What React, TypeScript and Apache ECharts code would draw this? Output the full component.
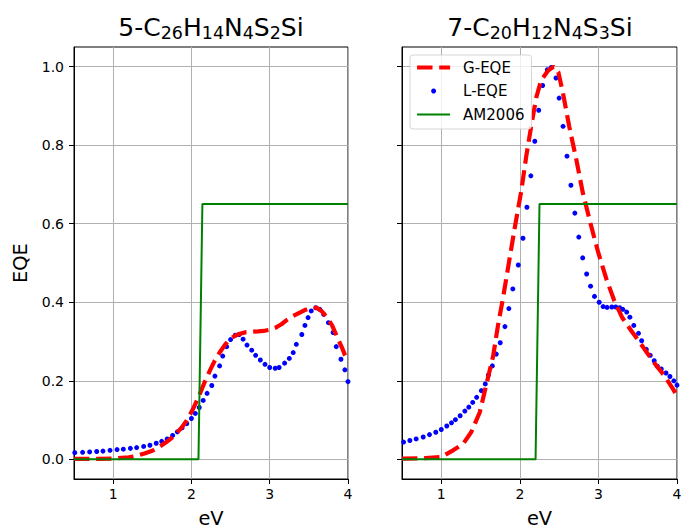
import React, { useEffect, useRef } from 'react';
import * as echarts from 'echarts';

const FONT = "'DejaVu Sans', sans-serif";

const X_TICKS = [1, 2, 3, 4];
const Y_TICKS = [0, 0.2, 0.4, 0.6, 0.8, 1.0];
const TITLES = [
  '{m|5-C}{s|26}{m|H}{s|14}{m|N}{s|4}{m|S}{s|2}{m|Si}',
  '{m|7-C}{s|20}{m|H}{s|12}{m|N}{s|4}{m|S}{s|3}{m|Si}',
];
const SERIES_NAMES = ['G-EQE', 'L-EQE', 'AM2006'];
const X_NAME = 'eV';
const Y_NAME = 'EQE';

// Left panel: 5-C26H14N4S2Si
const leftG = [
  [0.5, 0.001], [0.8, 0.001], [1.0, 0.002], [1.2, 0.005], [1.3, 0.009], [1.4, 0.015],
  [1.5, 0.022], [1.6, 0.033], [1.68, 0.044], [1.75, 0.055], [1.81, 0.067], [1.88, 0.082],
  [1.94, 0.099], [2.02, 0.128], [2.1, 0.163], [2.17, 0.197], [2.24, 0.228], [2.3, 0.252],
  [2.36, 0.272], [2.43, 0.292], [2.49, 0.306], [2.56, 0.315], [2.62, 0.32], [2.7, 0.324],
  [2.77, 0.325], [2.85, 0.326], [2.92, 0.327], [3.0, 0.33], [3.07, 0.335], [3.15, 0.344],
  [3.22, 0.355], [3.3, 0.365], [3.39, 0.374], [3.46, 0.381], [3.53, 0.386], [3.6, 0.386],
  [3.66, 0.378], [3.73, 0.362], [3.8, 0.34], [3.86, 0.312], [3.92, 0.286], [3.96, 0.266],
  [4.0, 0.25],
];
const leftL = [
  [0.51, 0.017], [0.61, 0.018], [0.7, 0.019], [0.79, 0.02], [0.87, 0.021], [0.96, 0.023],
  [1.05, 0.025], [1.13, 0.026], [1.22, 0.028], [1.3, 0.03], [1.39, 0.033], [1.47, 0.036],
  [1.55, 0.041], [1.62, 0.046], [1.69, 0.052], [1.76, 0.061], [1.82, 0.07], [1.88, 0.08],
  [1.94, 0.091], [2.0, 0.104], [2.05, 0.117], [2.1, 0.132], [2.15, 0.15], [2.2, 0.168],
  [2.26, 0.188], [2.3, 0.212], [2.36, 0.238], [2.4, 0.263], [2.45, 0.287], [2.5, 0.305],
  [2.56, 0.316], [2.61, 0.318], [2.66, 0.306], [2.71, 0.291], [2.77, 0.278], [2.82, 0.265],
  [2.88, 0.253], [2.94, 0.242], [3.0, 0.234], [3.07, 0.232], [3.12, 0.234], [3.19, 0.245],
  [3.25, 0.257], [3.3, 0.272], [3.34, 0.293], [3.41, 0.318], [3.45, 0.341], [3.49, 0.361],
  [3.53, 0.378], [3.59, 0.386], [3.64, 0.382], [3.69, 0.369], [3.75, 0.348], [3.81, 0.323],
  [3.85, 0.287], [3.91, 0.255], [3.96, 0.228], [4.0, 0.198],
];
const leftAM = [[0.5, 0], [2.09, 0], [2.14, 0.65], [4.0, 0.65]];

// Right panel: 7-C20H12N4S3Si
const rightG = [
  [0.5, 0.002], [0.8, 0.003], [1.0, 0.006], [1.15, 0.023], [1.28, 0.04], [1.38, 0.069],
  [1.49, 0.12], [1.58, 0.196], [1.66, 0.263], [1.72, 0.339], [1.79, 0.416], [1.86, 0.5],
  [1.93, 0.584], [2.02, 0.686], [2.08, 0.77], [2.15, 0.855], [2.21, 0.922], [2.27, 0.965],
  [2.36, 0.99], [2.43, 1.0], [2.49, 0.986], [2.55, 0.931], [2.63, 0.846], [2.72, 0.762],
  [2.8, 0.68], [2.9, 0.6], [3.0, 0.525], [3.1, 0.46], [3.2, 0.405], [3.3, 0.362],
  [3.42, 0.327], [3.53, 0.297], [3.63, 0.268], [3.74, 0.238], [3.84, 0.213], [3.95, 0.179],
  [4.0, 0.162],
];
const rightL = [
  [0.52, 0.044], [0.6, 0.048], [0.68, 0.052], [0.77, 0.057], [0.85, 0.063], [0.93, 0.069],
  [1.0, 0.076], [1.07, 0.085], [1.13, 0.093], [1.18, 0.101], [1.24, 0.111], [1.3, 0.123],
  [1.35, 0.133], [1.4, 0.145], [1.45, 0.158], [1.51, 0.175], [1.56, 0.192], [1.6, 0.215],
  [1.65, 0.238], [1.7, 0.268], [1.75, 0.297], [1.81, 0.338], [1.86, 0.384], [1.91, 0.434],
  [1.98, 0.495], [2.04, 0.563], [2.09, 0.642], [2.14, 0.722], [2.19, 0.81], [2.24, 0.889],
  [2.29, 0.952], [2.35, 0.992], [2.4, 0.998], [2.46, 0.971], [2.5, 0.92], [2.55, 0.848],
  [2.6, 0.772], [2.65, 0.698], [2.7, 0.627], [2.75, 0.566], [2.8, 0.513], [2.85, 0.472],
  [2.9, 0.441], [2.95, 0.415], [3.01, 0.4], [3.06, 0.389], [3.11, 0.387], [3.17, 0.388],
  [3.22, 0.388], [3.27, 0.386], [3.31, 0.382], [3.36, 0.375], [3.4, 0.362], [3.45, 0.341],
  [3.51, 0.321], [3.55, 0.302], [3.61, 0.28], [3.66, 0.265], [3.71, 0.251], [3.75, 0.237],
  [3.8, 0.23], [3.86, 0.22], [3.91, 0.211], [3.96, 0.2], [4.0, 0.189],
];
const rightAM = [[0.5, 0], [2.2, 0], [2.25, 0.65], [4.0, 0.65]];

const PANELS = [
  { g: leftG, l: leftL, am: leftAM },
  { g: rightG, l: rightL, am: rightAM },
];

const GRIDS = [
  { left: 74, top: 47, width: 274, height: 432 },
  { left: 402, top: 47, width: 275, height: 432 },
];
const TITLE_CENTERS = [211, 540];

export default function App() {
  const ref = useRef<HTMLDivElement>(null);

  useEffect(() => {
    if (!ref.current) return;
    const chart = echarts.init(ref.current, null, { renderer: 'svg' });

    const richTitle = {
      m: { fontSize: 25, lineHeight: 25, verticalAlign: 'top', fontFamily: FONT, color: '#000' },
      s: {
        fontSize: 17.5, lineHeight: 25, verticalAlign: 'top', padding: [9, 0, 0, 0],
        fontFamily: FONT, color: '#000',
      },
    };

    const series: any[] = [];
    PANELS.forEach((p, i) => {
      series.push({
        name: SERIES_NAMES[0], type: 'line', xAxisIndex: i, yAxisIndex: i, data: p.g,
        symbol: 'none', showSymbol: false, silent: true,
        lineStyle: { color: '#ff0000', width: 4.2, type: [15.4, 6.7] },
        itemStyle: { color: '#ff0000' },
        emphasis: { disabled: true },
      });
      series.push({
        name: SERIES_NAMES[1], type: 'scatter', xAxisIndex: i, yAxisIndex: i, data: p.l,
        symbol: 'circle', symbolSize: 5, silent: true,
        itemStyle: { color: '#0000ff', opacity: 1 },
        emphasis: { disabled: true },
      });
      series.push({
        name: SERIES_NAMES[2], type: 'line', xAxisIndex: i, yAxisIndex: i, data: p.am,
        symbol: 'none', showSymbol: false, silent: true,
        lineStyle: { color: '#008000', width: 2 },
        itemStyle: { color: '#008000' },
        emphasis: { disabled: true },
      });
    });

    const option: any = {
      animation: false,
      backgroundColor: '#ffffff',
      title: TITLES.map((t, i) => ({
        text: t,
        left: TITLE_CENTERS[i],
        top: 15,
        padding: 0,
        textAlign: 'center',
        textStyle: { fontSize: 25, fontWeight: 'normal', color: '#000', fontFamily: FONT, rich: richTitle },
      })),
      legend: {
        orient: 'vertical',
        left: 410,
        top: 55,
        data: [
          { name: SERIES_NAMES[0], itemStyle: { opacity: 0 }, lineStyle: { width: 4.2 } },
          { name: SERIES_NAMES[1], icon: 'circle', itemStyle: { opacity: 1 } },
          { name: SERIES_NAMES[2], itemStyle: { opacity: 0 }, lineStyle: { width: 2 } },
        ],
        itemWidth: 33,
        itemHeight: 5,
        itemGap: 8.5,
        padding: [5, 7, 7, 5],
        backgroundColor: 'rgba(255,255,255,0.8)',
        borderColor: 'rgba(204,204,204,0.8)',
        borderWidth: 1,
        borderRadius: 3,
        selectedMode: false,
        textStyle: { fontSize: 15, color: '#000', fontFamily: FONT, padding: [0, 0, 0, 8] },
      },
      grid: GRIDS.map((g) => ({
        ...g,
        show: true,
        borderColor: '#000',
        borderWidth: 1,
        backgroundColor: 'transparent',
        containLabel: false,
        outerBoundsMode: 'none',
      })),
      xAxis: GRIDS.map((_, i) => ({
        gridIndex: i,
        type: 'value',
        min: 0.5,
        max: 4,
        axisLine: { show: true, onZero: false, lineStyle: { color: '#000', width: 1 } },
        axisTick: { show: true, length: 5, customValues: X_TICKS, lineStyle: { color: '#000', width: 1 } },
        axisLabel: { customValues: X_TICKS, fontSize: 14, color: '#000', fontFamily: FONT, margin: 8 },
        splitLine: { show: true, lineStyle: { color: '#b0b0b0', width: 1 } },
        name: X_NAME,
        nameLocation: 'middle',
        nameGap: 30,
        nameTextStyle: { fontSize: 19.4, color: '#000', fontFamily: FONT },
      })),
      yAxis: GRIDS.map((_, i) => ({
        gridIndex: i,
        type: 'value',
        min: -0.05,
        max: 1.05,
        axisLine: { show: true, onZero: false, lineStyle: { color: '#000', width: 1 } },
        axisTick: { show: true, length: 5, customValues: Y_TICKS, lineStyle: { color: '#000', width: 1 } },
        axisLabel: {
          show: i === 0,
          customValues: Y_TICKS,
          formatter: (v: number) => v.toFixed(1),
          fontSize: 14, color: '#000', fontFamily: FONT, margin: 10,
        },
        splitLine: { show: true, lineStyle: { color: '#b0b0b0', width: 1 } },
        name: i === 0 ? Y_NAME : '',
        nameLocation: 'middle',
        nameGap: 44,
        nameTextStyle: { fontSize: 19.4, color: '#000', fontFamily: FONT },
      })),
      series,
    };

    chart.setOption(option);
    return () => chart.dispose();
  }, []);

  return (
    <div
      ref={ref}
      style={{ position: 'absolute', left: 0, top: 0, width: 681, height: 529, background: '#fff' }}
    />
  );
}
